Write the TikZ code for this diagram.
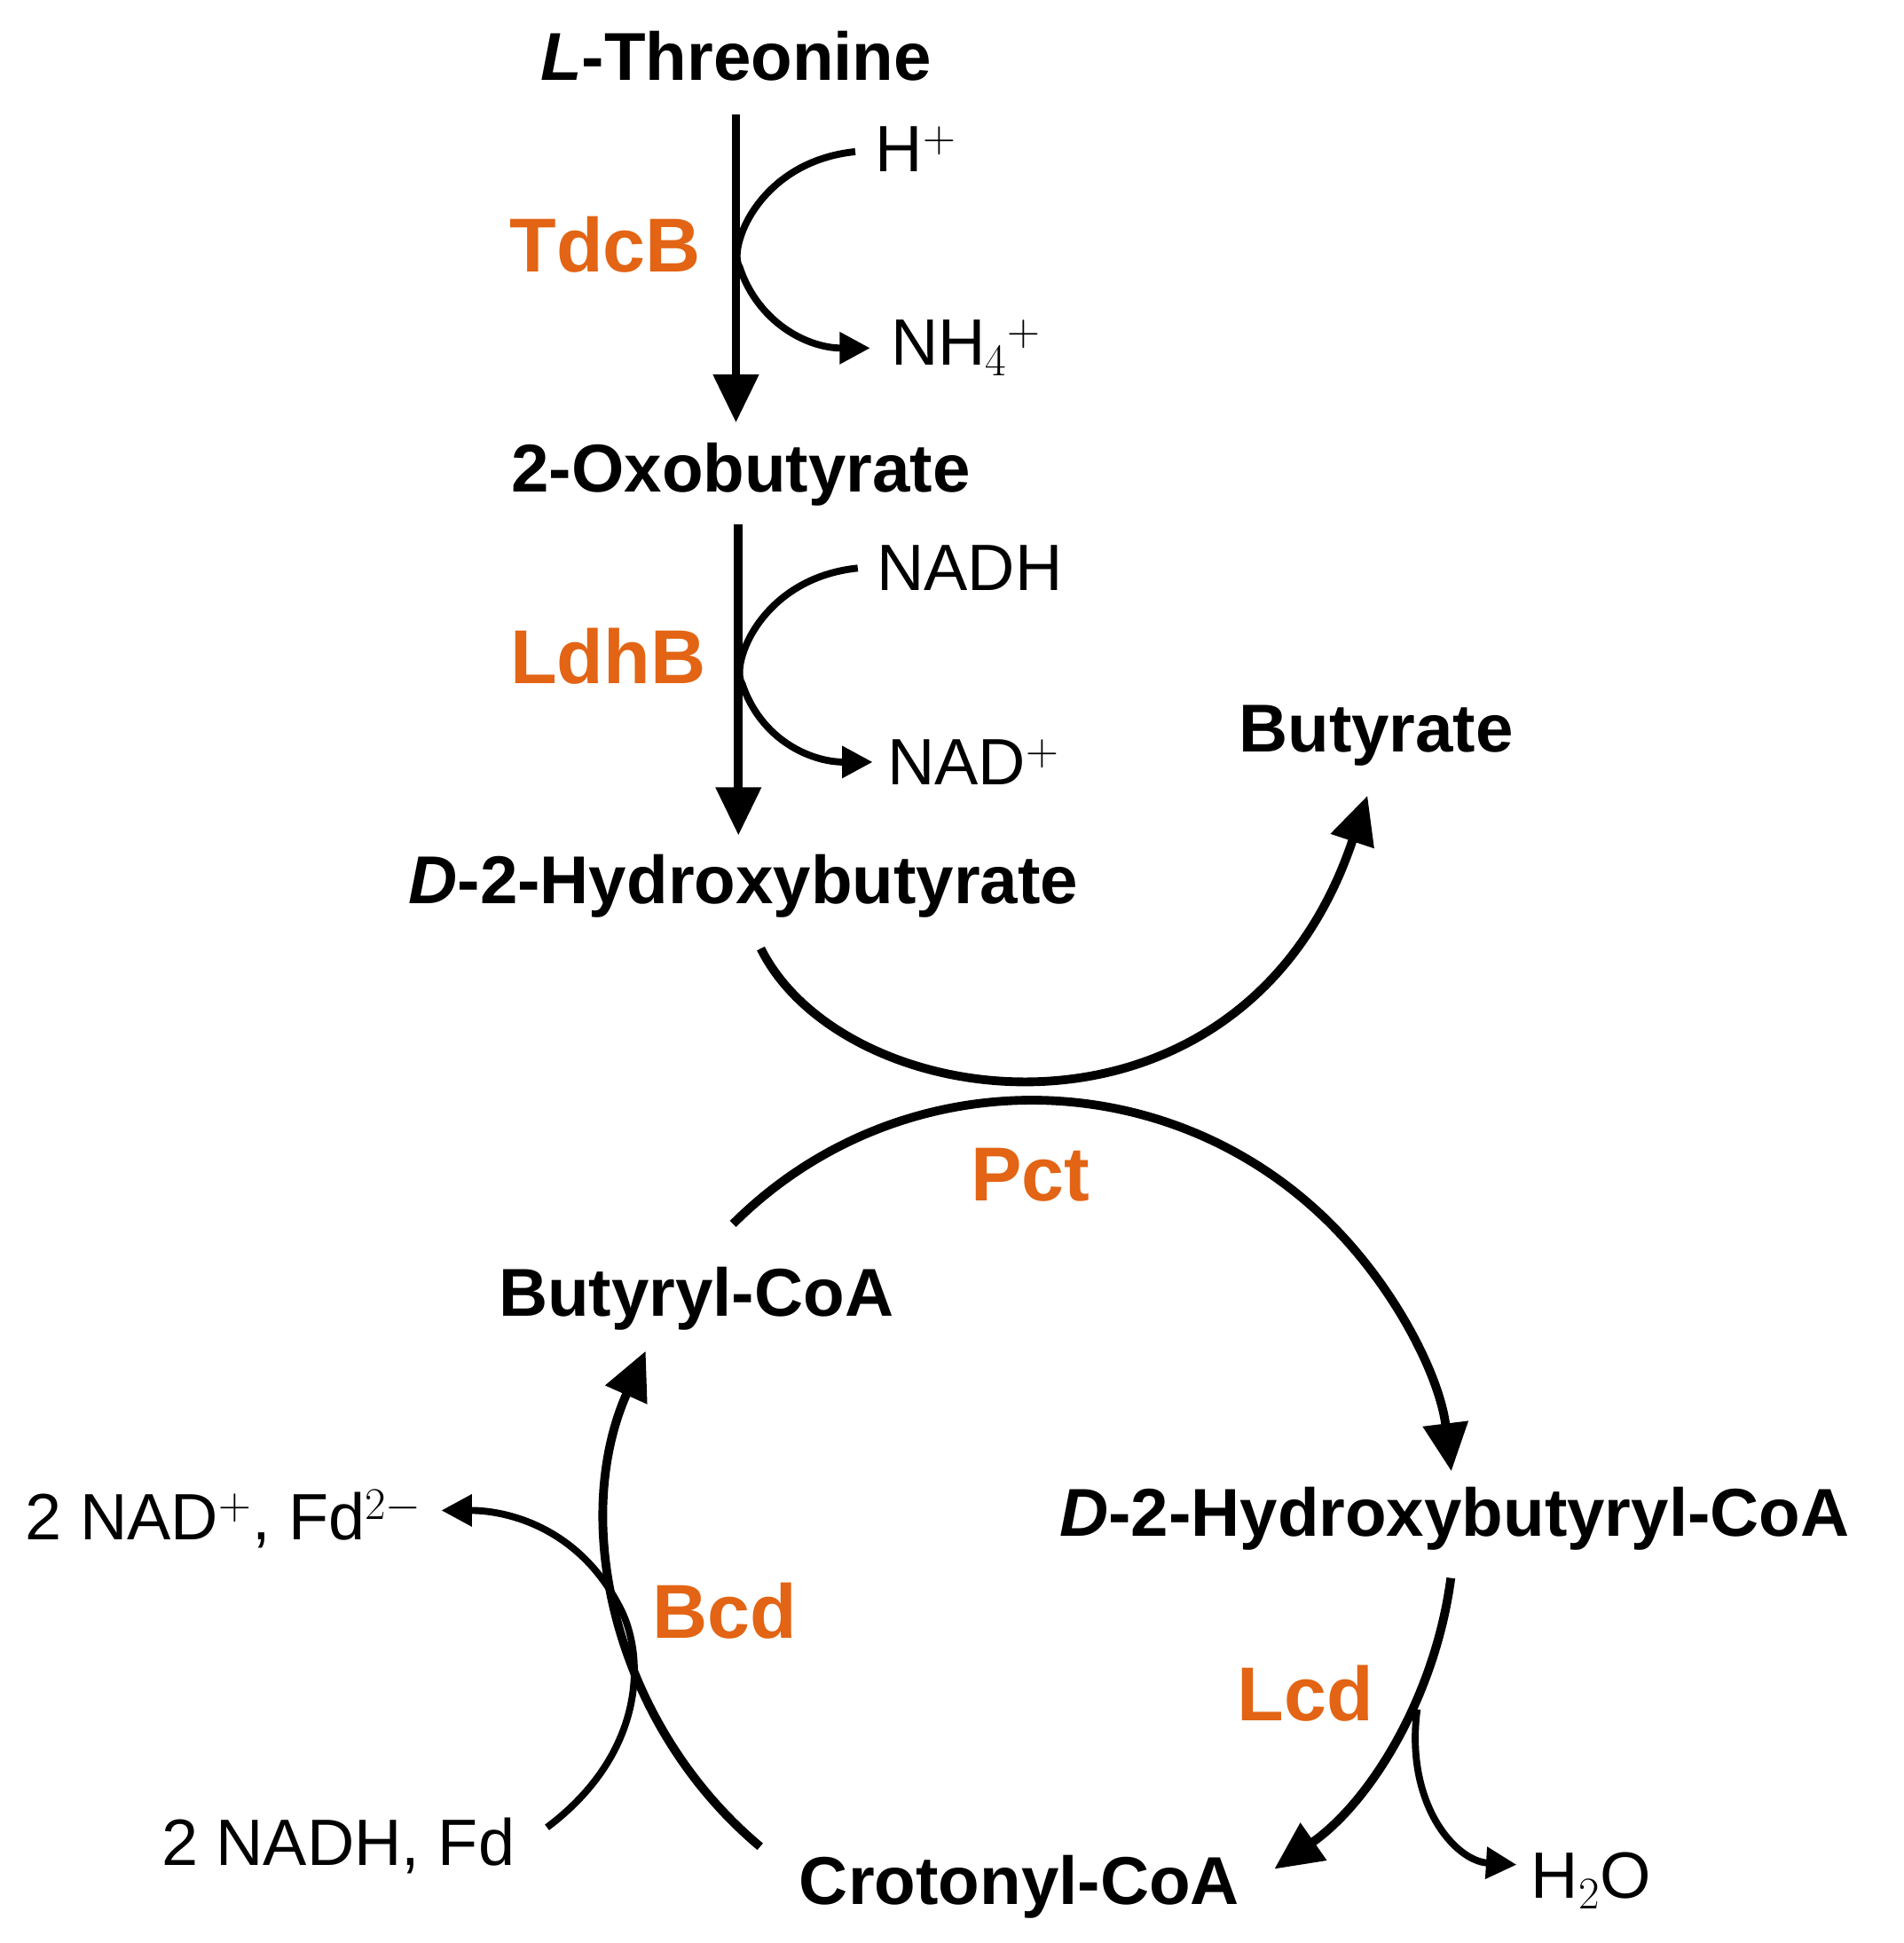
\documentclass[tikz,border=0pt]{standalone}
\usepackage{fontspec}
\setmainfont{Liberation Sans}
\usetikzlibrary{arrows.meta,calc}
\definecolor{enz}{RGB}{226,100,20}
\begin{document}
\begin{tikzpicture}[x=0.02cm,y=0.02cm,
  met/.style={font=\fontsize{31}{36}\selectfont\bfseries},
  co/.style={font=\fontsize{30}{36}\selectfont},
  en/.style={font=\fontsize{35}{40}\selectfont\bfseries,text=enz},
  main/.style={line width=4pt,-{Triangle[length=22pt,width=20pt]}},
  side/.style={line width=3.2pt,-{Triangle[length=14pt,width=14pt]}}]
\useasboundingbox (0,0) rectangle (1531,-1563);
\node[met] (thr) at (592,-45) {\textit{L}-Threonine};
\node[met] (oxo) at (596,-382) {2-Oxobutyrate};
\node[met] (hb) at (598,-713) {\textit{D}-2-Hydroxybutyrate};
\node[met] (but) at (1107,-592) {Butyrate};
\node[met] (bcoa) at (560,-1045) {Butyryl-CoA};
\node[met] (hbcoa) at (1170,-1222) {\textit{D}-2-Hydroxybutyryl-CoA};
\node[met] (cro) at (820,-1518) {Crotonyl-CoA};
\node[co] (h2o) at (1280,-1513) {H$_2$O};
\node[co] (nadh2) at (272,-1485) {2 NADH, Fd};
\node[co] (nad2) at (180,-1222) {2 NAD$^+$, Fd$^{2-}$};
\node[co] (hp) at (737,-120) {H$^+$};
\node[co] (nh4) at (777,-280) {NH$_4$$^+$};
\node[co] (nadh) at (780,-457) {NADH};
\node[co] (nadp) at (783,-613) {NAD$^+$};
\node[en] at (487,-197) {TdcB};
\node[en] at (489,-528) {LdhB};
\node[en] at (829,-945) {Pct};
\node[en] at (583,-1296) {Bcd};
\node[en] at (1050,-1362) {Lcd};
\coordinate (c) at (830,-1225);
% vertical
\draw[main] (592,-92) -- (592,-340);
\draw[side] (688,-122) .. controls (610,-130) and (585,-200) .. (595,-215) .. controls (610,-260) and (650,-280) .. (700,-280);
\draw[main] (594,-422) -- (594,-672);
\draw[side] (690,-457) .. controls (612,-465) and (587,-535) .. (597,-550) .. controls (612,-595) and (652,-613) .. (702,-613);
% Pct
\draw[main] (612,-763) .. controls (680,-900) and (1000,-940) .. (1100,-640);
\draw[main] ($(c)+(135:340)$) arc[start angle=135,end angle=7,radius=340];
\draw[main] ($(c)+(-7.5:340)$) arc[start angle=-7.5,end angle=-55,radius=340];
\draw[main] ($(c)+(-130:340)$) arc[start angle=-130,end angle=-204,radius=340];
\draw[side] (1140,-1375) .. controls (1130,-1450) and (1170,-1497) .. (1220,-1500);
\draw[side] (440,-1470) .. controls (520,-1410) and (520,-1330) .. (497,-1290) .. controls (465,-1230) and (410,-1215) .. (355,-1215);
\end{tikzpicture}
\end{document}
